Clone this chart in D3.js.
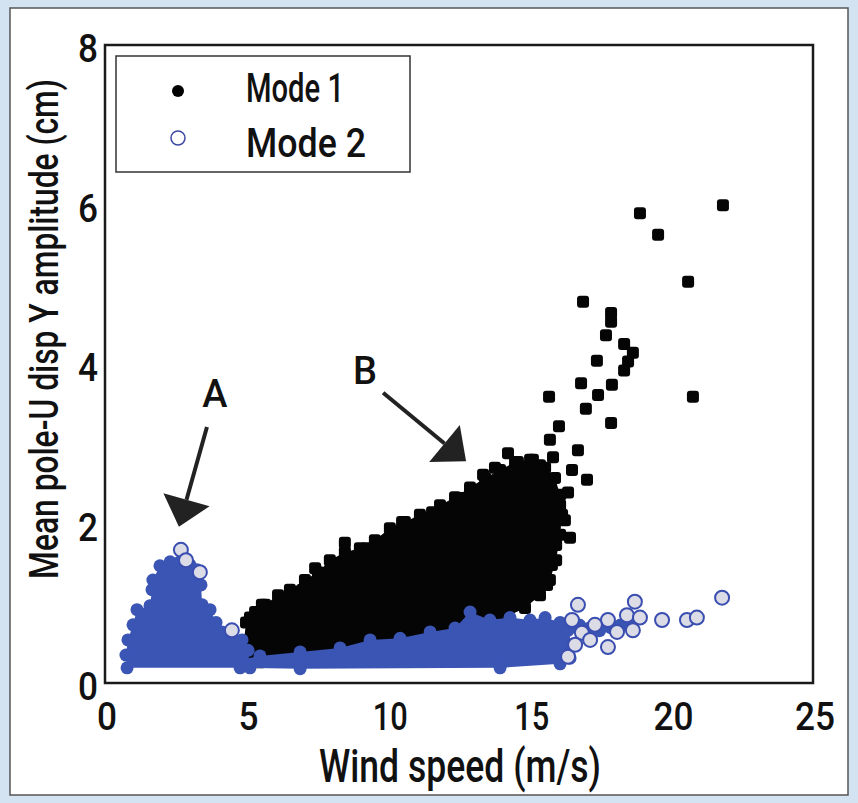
<!DOCTYPE html>
<html>
<head>
<meta charset="utf-8">
<script src="https://cdn.jsdelivr.net/npm/d3@7"></script>
<style>
  html, body { margin: 0; padding: 0; background: #d4e3f2; }
  svg { display: block; }
  .lbl { font-family: "Roboto", "Liberation Sans", sans-serif; font-weight: 500; fill: #111; }
</style>
</head>
<body>
<div id="vis"></div>
<script>
// ---- data ----
var xTicks = [0, 5, 10, 15, 20, 25];
var yTicks = [0, 2, 4, 6, 8];

// Mode 1: outline of the dense black cloud (wind speed, amplitude)
var mode1Cloud = [
  [4.94, 0.23], [4.91, 0.54], [4.98, 0.76], [5.30, 0.89], [5.65, 0.98], [6.11, 1.10],
  [6.53, 1.17], [7.06, 1.29], [7.52, 1.39], [7.94, 1.54], [8.47, 1.64], [9.00, 1.69],
  [9.53, 1.79], [10.06, 1.94], [10.59, 2.02], [11.12, 2.11], [11.83, 2.23], [12.36, 2.33],
  [12.89, 2.45], [13.42, 2.57], [13.95, 2.67], [14.48, 2.77], [15.01, 2.80], [15.54, 2.70],
  [15.89, 2.57], [16.07, 2.36], [16.14, 2.11], [16.07, 1.86], [15.93, 1.54], [15.71, 1.29],
  [15.36, 1.10], [14.83, 0.94], [14.12, 0.82], [13.24, 0.73], [11.83, 0.64], [10.42, 0.54],
  [8.65, 0.44], [6.89, 0.35], [5.47, 0.26]
];

// Mode 1: separate squares around and above the cloud
var mode1Points = [
  [18.89, 5.89], [21.82, 5.99], [19.53, 5.62], [20.59, 5.03], [20.76, 3.59], [16.88, 4.78],
  [17.87, 4.64], [17.87, 4.53], [17.69, 4.36], [18.33, 4.25], [18.64, 4.14], [18.47, 4.03],
  [17.37, 4.04], [18.33, 3.92], [16.81, 3.76], [17.90, 3.74], [17.41, 3.61], [15.68, 3.59],
  [16.98, 3.44], [16.03, 3.22], [17.87, 3.26], [15.71, 3.05], [16.70, 2.92], [14.23, 2.88],
  [15.11, 2.80], [15.82, 2.83], [17.02, 2.55], [16.35, 2.39], [16.42, 1.82], [13.35, 2.61],
  [14.19, 2.55], [16.49, 2.67], [16.07, 2.23], [16.24, 2.04],
  [8.47, 1.76], [7.42, 1.44], [9.25, 1.69], [10.49, 2.02], [6.53, 1.13], [6.99, 1.17],
  [12.18, 2.17], [12.54, 2.32], [5.54, 0.98], [5.12, 0.82], [11.55, 2.14], [12.89, 2.42],
  [13.77, 2.70], [14.58, 2.77], [15.36, 2.73], [15.93, 1.73], [15.78, 1.48], [15.61, 1.23]
];

// Mode 2: outline of the low-wind blue hill (A)
var mode2CloudA = [
  [0.78, 0.19], [0.74, 0.35], [0.81, 0.54], [0.99, 0.73], [1.13, 0.92], [1.59, 0.97],
  [1.66, 1.17], [1.69, 1.29], [1.94, 1.47], [2.30, 1.52], [2.65, 1.52], [3.00, 1.48],
  [3.25, 1.42], [3.39, 1.23], [3.43, 0.98], [3.71, 0.92], [3.92, 0.76], [4.13, 0.64],
  [4.48, 0.58], [4.84, 0.54], [5.05, 0.41], [5.12, 0.19]
];

// Mode 2: outline of the blue band under the black cloud
var mode2CloudB = [
  [4.77, 0.29], [5.47, 0.34], [6.89, 0.39], [8.30, 0.44], [9.36, 0.54], [10.42, 0.56],
  [11.48, 0.64], [12.36, 0.69], [12.89, 0.89], [13.59, 0.79], [14.30, 0.82], [15.01, 0.79],
  [15.54, 0.82], [16.07, 0.76], [16.35, 0.66], [16.49, 0.48], [16.42, 0.31], [16.07, 0.24],
  [13.95, 0.19], [6.89, 0.18], [4.77, 0.19]
];

// Mode 2: packed (filled-looking) circles between the band and the outliers
var mode2Packed = [
  [16.75, 0.72], [17.10, 0.68], [17.45, 0.66], [17.85, 0.70], [18.20, 0.72], [18.55, 0.74]
];

// Mode 2: separate circles
var mode2Points = [
  [2.68, 1.67], [2.86, 1.54], [3.35, 1.39], [4.48, 0.66],
  [16.70, 0.98], [18.71, 1.02], [16.49, 0.79], [17.76, 0.79], [18.43, 0.85], [18.89, 0.82],
  [19.67, 0.79], [20.55, 0.79], [20.90, 0.82], [21.79, 1.07], [18.64, 0.66], [16.35, 0.33],
  [17.76, 0.45], [16.84, 0.63], [17.30, 0.73], [17.13, 0.54], [18.08, 0.64], [16.60, 0.48]
];

var legendLabels = ["Mode 1", "Mode 2"];

// arrows: label position, arrow start, arrow tip (data units)
var annotations = [
  { label: "A", at: [3.88, 3.64], from: [3.60, 3.21], to: [2.61, 1.96] },
  { label: "B", at: [9.18, 3.92], from: [9.82, 3.64], to: [12.75, 2.78] }
];

// ---- layout ----
var W = 858, H = 803;
var margin = { top: 45, right: 45, bottom: 120, left: 105 };
var width = W - margin.left - margin.right;
var height = H - margin.top - margin.bottom;

var blue = "#3a55b4";

// condensed look: digit widths like the original's narrow face
function numWidth(s) {
  return String(s).split("").reduce(function (a, c) { return a + (c === "1" ? 15 : 20); }, 0);
}

var root = d3.select("#vis").append("svg")
  .attr("width", W)
  .attr("height", H);

root.append("rect")
  .attr("x", 10).attr("y", 8)
  .attr("width", 838).attr("height", 787)
  .attr("fill", "#fff")
  .attr("stroke", "#555")
  .attr("stroke-width", 1.5);

var svg = root.append("g")
  .attr("transform", "translate(" + margin.left + "," + margin.top + ")");

var x = d3.scaleLinear().domain([0, 25]).range([0, width]);
var y = d3.scaleLinear().domain([0, 8]).range([height, 0]);

svg.append("clipPath").attr("id", "clip")
  .append("rect").attr("width", width).attr("height", height);

var plot = svg.append("g").attr("clip-path", "url(#clip)");

var outline = d3.line()
  .x(function (d) { return x(d[0]); })
  .y(function (d) { return y(d[1]); })
  .curve(d3.curveLinearClosed);

// black cloud
plot.append("path")
  .attr("d", outline(mode1Cloud))
  .attr("fill", "#050505");

var sq = 12;
plot.selectAll(".m1edge")
  .data(mode1Cloud.concat(mode1Points))
  .enter().append("rect")
  .attr("class", "m1edge")
  .attr("x", function (d) { return x(d[0]) - sq / 2; })
  .attr("y", function (d) { return y(d[1]) - sq / 2; })
  .attr("width", sq).attr("height", sq)
  .attr("rx", 3)
  .attr("fill", "#050505");

// blue clouds
[mode2CloudA, mode2CloudB].forEach(function (c) {
  plot.append("path")
    .attr("d", outline(c))
    .attr("fill", blue);
  plot.selectAll(null)
    .data(c)
    .enter().append("circle")
    .attr("cx", function (d) { return x(d[0]); })
    .attr("cy", function (d) { return y(d[1]); })
    .attr("r", 6.5)
    .attr("fill", blue);
});

plot.selectAll(".m2pk")
  .data(mode2Packed)
  .enter().append("circle")
  .attr("class", "m2pk")
  .attr("cx", function (d) { return x(d[0]); })
  .attr("cy", function (d) { return y(d[1]); })
  .attr("r", 7)
  .attr("fill", blue);

plot.selectAll(".m2pt")
  .data(mode2Points)
  .enter().append("circle")
  .attr("class", "m2pt")
  .attr("cx", function (d) { return x(d[0]); })
  .attr("cy", function (d) { return y(d[1]); })
  .attr("r", 7)
  .attr("fill", "#dcdce6")
  .attr("stroke", "#3a4db0")
  .attr("stroke-width", 2);

// frame
svg.append("rect")
  .attr("width", width).attr("height", height)
  .attr("fill", "none")
  .attr("stroke", "#1a1a1a")
  .attr("stroke-width", 2.5);

// ticks (no tick marks, only labels)
svg.selectAll(".xt")
  .data(xTicks)
  .enter().append("text")
  .attr("class", "lbl")
  .attr("x", function (d) { return x(d) + 2; })
  .attr("y", height + 47)
  .attr("text-anchor", "middle")
  .attr("textLength", function (d) { return numWidth(d); })
  .attr("lengthAdjust", "spacingAndGlyphs")
  .style("font-size", "39px")
  .text(function (d) { return d; });

svg.selectAll(".yt")
  .data(yTicks)
  .enter().append("text")
  .attr("class", "lbl")
  .attr("x", -7)
  .attr("y", function (d) { return y(d) + 17; })
  .attr("text-anchor", "end")
  .attr("textLength", function (d) { return numWidth(d); })
  .attr("lengthAdjust", "spacingAndGlyphs")
  .style("font-size", "39px")
  .text(function (d) { return d; });

// axis titles
svg.append("text")
  .attr("class", "lbl")
  .attr("x", 355)
  .attr("y", height + 99)
  .attr("text-anchor", "middle")
  .attr("textLength", 282)
  .attr("lengthAdjust", "spacingAndGlyphs")
  .style("font-size", "46px")
  .text("Wind speed (m/s)");

// y title: squeeze with a scale so its real box stays 500px long
var yTitle = svg.append("text")
  .attr("class", "lbl")
  .attr("text-anchor", "middle")
  .style("font-size", "41px")
  .text("Mean pole-U disp Y amplitude (cm)");
var natural = yTitle.node().getComputedTextLength();
yTitle.attr("transform", "translate(-47," + 284 + ") rotate(-90) scale(" + (500 / natural) + ",1)");

// legend
var lg = svg.append("g").attr("transform", "translate(11,11)");
lg.append("rect")
  .attr("width", 294).attr("height", 116)
  .attr("fill", "#fff")
  .attr("stroke", "#333")
  .attr("stroke-width", 1.5);
lg.append("circle").attr("cx", 62).attr("cy", 35).attr("r", 6).attr("fill", "#000");
lg.append("circle").attr("cx", 62).attr("cy", 82).attr("r", 7)
  .attr("fill", "#fff").attr("stroke", "#3d47a3").attr("stroke-width", 1.5);
lg.selectAll(".lt")
  .data(legendLabels)
  .enter().append("text")
  .attr("class", "lbl")
  .attr("x", 130)
  .attr("y", function (d, i) { return 46 + i * 55; })
  .attr("textLength", function (d, i) { return i === 0 ? 98 : 120; })
  .attr("lengthAdjust", "spacingAndGlyphs")
  .style("font-size", "40px")
  .text(function (d) { return d; });

// annotations
annotations.forEach(function (a) {
  var x0 = x(a.from[0]), y0 = y(a.from[1]);
  var x1 = x(a.to[0]), y1 = y(a.to[1]);
  var ang = Math.atan2(y1 - y0, x1 - x0);
  var len = 28, half = 24;
  var bx = x1 - len * Math.cos(ang), by = y1 - len * Math.sin(ang);
  svg.append("line")
    .attr("x1", x0).attr("y1", y0)
    .attr("x2", bx).attr("y2", by)
    .attr("stroke", "#222")
    .attr("stroke-width", 4);
  var px = -Math.sin(ang), py = Math.cos(ang);
  svg.append("path")
    .attr("d", "M" + x1 + "," + y1 +
      "L" + (bx + half * px) + "," + (by + half * py) +
      "L" + (bx - half * px) + "," + (by - half * py) + "Z")
    .attr("fill", "#222");
  svg.append("text")
    .attr("class", "lbl")
    .attr("x", x(a.at[0]))
    .attr("y", y(a.at[1]) + 14)
    .attr("text-anchor", "middle")
    .style("font-size", "38px")
    .text(a.label);
});
</script>
</body>
</html>
